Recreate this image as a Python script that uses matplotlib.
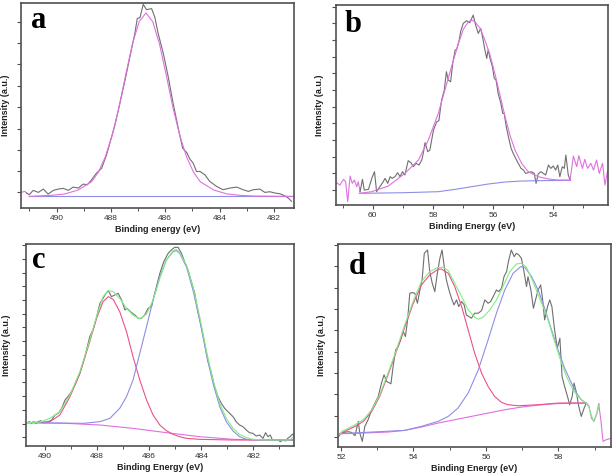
import numpy as np
import matplotlib
matplotlib.use('Agg')
import matplotlib.pyplot as plt
from matplotlib.ticker import MultipleLocator

# ---------------- panel a ----------------
a_edge_ev = [491.31, 491.17, 491.10]
a_edge_int = [22, 25, 20]

a_raw_ev = [491.10, 491.01, 490.86, 490.67, 490.49, 490.31, 490.12, 489.94, 489.75, 489.57,
            489.39, 489.20, 489.02, 488.87, 488.71, 488.53, 488.34, 488.16, 488.04, 487.85,
            487.67, 487.48, 487.30, 487.12, 487.03, 486.93, 486.81, 486.69, 486.50, 486.38,
            486.26, 486.07, 485.89, 485.71, 485.52, 485.36, 485.21, 485.09, 484.97, 484.85,
            484.72, 484.54, 484.36, 484.11, 483.87, 483.62, 483.37, 483.13, 482.94, 482.76,
            482.52, 482.33, 482.15, 481.96, 481.78, 481.60, 481.47, 481.35]
a_raw_int = [20, 15, 28, 22, 32, 17, 28, 32, 34, 28,
             38, 35, 47, 45, 60, 80, 95, 135, 170, 225,
             290, 360, 430, 500, 545, 548, 588, 572, 575, 548,
             500, 440, 370, 290, 215, 155, 142, 122, 110, 85,
             85, 75, 55, 40, 30, 35, 38, 30, 25, 30,
             32, 22, 24, 20, 18, 12, 5, -5]

a_fit_ev = [491.01, 490.21, 489.71, 489.21, 488.71, 488.46, 488.21, 487.96, 487.71, 487.46,
            487.21, 486.96, 486.71, 486.46, 486.21, 485.96, 485.71, 485.46, 485.21, 484.96,
            484.71, 484.21, 483.71, 483.21, 482.71, 481.28]
a_fit_int = [10, 13, 17, 29, 54, 83, 128, 192, 275, 374,
             468, 536, 562, 536, 468, 374, 275, 192, 128, 83,
             54, 29, 17, 13, 11, 10]

a_bg_ev = [491.01, 481.28]
a_bg_int = [10, 10]

a_yticks = [22, 85, 150, 214, 278, 342, 407, 472, 535]

# ---------------- panel b ----------------
b_edge1_ev = [61.20, 61.09, 60.97, 60.90, 60.83, 60.75, 60.68, 60.61, 60.53, 60.48, 60.42]
b_edge1_int = [52, 45, 62, 55, -5, 72, 50, 60, 40, 55, 25]

b_raw_ev = [60.42, 60.34, 60.28, 60.14, 60.03, 59.94, 59.87, 59.76, 59.65, 59.59,
            59.50, 59.42, 59.35, 59.26, 59.17, 59.09, 59.01, 58.93, 58.82, 58.73,
            58.65, 58.56, 58.46, 58.37, 58.32, 58.26, 58.17, 58.10, 57.98, 57.87,
            57.80, 57.71, 57.62, 57.55, 57.49, 57.41, 57.34, 57.26, 57.21, 57.13,
            57.07, 56.99, 56.88, 56.77, 56.71, 56.66, 56.58, 56.49, 56.41, 56.35,
            56.27, 56.21, 56.16, 56.10, 56.02, 55.96, 55.90, 55.83, 55.74, 55.68,
            55.63, 55.56, 55.49, 55.40, 55.33, 55.25, 55.16, 55.07, 54.99, 54.92,
            54.83, 54.72, 54.63, 54.57, 54.50, 54.41, 54.33, 54.25, 54.16, 54.08,
            54.00, 53.92, 53.85, 53.78, 53.70, 53.63, 53.58, 53.50, 53.44]
b_raw_int = [25, 62, 30, 32, 65, 85, 25, 40, 55, 65,
             50, 70, 65, 70, 82, 70, 85, 75, 118, 112,
             100, 110, 105, 120, 140, 172, 145, 150, 210, 235,
             238, 300, 330, 385, 360, 355, 410, 450, 452, 478,
             508, 530, 538, 532, 545, 555, 525, 500, 515, 490,
             450, 425, 452, 425, 400, 365, 360, 320, 290, 260,
             260, 220, 190, 155, 140, 125, 110, 95, 90, 80,
             82, 85, 80, 50, 78, 85, 80, 75, 105, 95,
             102, 90, 105, 70, 100, 95, 135, 75, 60]

b_edge2_ev = [53.44, 53.33, 53.22, 53.15, 53.03, 52.95, 52.86, 52.75, 52.66, 52.56,
              52.47, 52.36, 52.28, 52.20, 52.14]
b_edge2_int = [60, 132, 100, 133, 95, 122, 95, 110, 90, 120,
               80, 110, 45, 85, 90]

b_fit_ev = [60.44, 60.03, 59.48, 58.93, 58.48, 58.15, 57.82, 57.60, 57.38, 57.15,
            56.99, 56.82, 56.71, 56.60, 56.43, 56.27, 56.10, 55.94, 55.77, 55.60,
            55.44, 55.27, 55.05, 54.83, 54.50, 54.16, 53.83, 53.44]
b_fit_int = [20, 25, 42, 80, 120, 180, 260, 330, 400, 470,
             512, 535, 540, 535, 515, 480, 435, 380, 315, 250,
             195, 150, 110, 85, 70, 63, 60, 60]

b_bg_ev = [60.44, 58.93, 57.82, 57.26, 56.71, 56.16, 55.60, 55.05, 54.50, 53.44]
b_bg_int = [20, 22, 25, 32, 40, 48, 54, 57, 58, 59]

b_yticks = [30, 80, 130, 180, 230, 280, 330, 380, 430, 480, 530, 580]

# ---------------- panel c ----------------
c_raw_ev = [490.68, 490.60, 490.51, 490.45, 490.34, 490.26, 490.17, 490.09, 490.00, 489.87,
            489.74, 489.62, 489.49, 489.36, 489.23, 489.04, 488.85, 488.66, 488.47, 488.28,
            488.15, 488.02, 487.89, 487.77, 487.66, 487.57, 487.45, 487.32, 487.19, 487.06,
            486.93, 486.85, 486.72, 486.55, 486.42, 486.30, 486.17, 486.04, 485.91, 485.82,
            485.72, 485.59, 485.44, 485.27, 485.15, 485.02, 484.89, 484.76, 484.64, 484.51,
            484.38, 484.25, 484.13, 484.00, 483.87, 483.74, 483.61, 483.49, 483.36, 483.23,
            483.10, 482.91, 482.78, 482.66, 482.53, 482.40, 482.27, 482.15, 482.02, 481.89,
            481.76, 481.63, 481.53, 481.44, 481.35, 481.28, 481.19, 481.06, 480.96, 480.87,
            480.77, 480.68, 480.59, 480.49, 480.42]
c_raw_int = [72, 75, 70, 75, 70, 75, 78, 72, 72, 75,
             80, 95, 100, 115, 140, 158, 185, 220, 270, 330,
             352, 388, 430, 445, 460, 468, 450, 455, 460, 440,
             410, 415, 405, 395, 385, 385, 395, 415, 420, 450,
             480, 520, 555, 580, 590, 598, 598, 580, 555, 530,
             495, 460, 405, 360, 310, 255, 220, 180, 150, 130,
             115, 100, 90, 75, 65, 60, 50, 42, 40, 32,
             35, 25, 42, 30, 35, 22, 20, 20, 15, 20,
             17, 25, 30, 38, 30]

c_sum_ev = [490.68, 490.19, 489.81, 489.43, 489.04, 488.66, 488.28, 488.02, 487.77, 487.57,
            487.38, 487.13, 486.87, 486.62, 486.36, 486.10, 485.85, 485.59, 485.34, 485.08,
            484.96, 484.83, 484.57, 484.32, 484.06, 483.81, 483.55, 483.29, 483.04, 482.78,
            482.53, 482.27, 482.02, 481.51, 481.00, 480.61, 480.49, 480.42]
c_sum_int = [72, 74, 85, 105, 155, 225, 320, 390, 450, 468,
             465, 445, 415, 395, 383, 398, 440, 505, 560, 588,
             592, 582, 545, 480, 390, 290, 200, 130, 85, 55,
             37, 27, 22, 20, 20, 20, 28, 35]

c_pk1_ev = [490.68, 489.81, 489.43, 489.04, 488.66, 488.28, 488.02, 487.77, 487.57, 487.38,
            487.13, 486.87, 486.62, 486.36, 486.10, 485.85, 485.59, 485.34, 485.08, 484.83,
            484.57, 484.06, 482.78, 480.49]
c_pk1_int = [72, 75, 95, 150, 220, 315, 385, 435, 450, 442,
             405, 345, 270, 200, 140, 95, 65, 48, 37, 30,
             25, 22, 20, 20]

c_pk2_ev = [490.68, 488.53, 487.89, 487.51, 487.13, 486.87, 486.62, 486.36, 486.10, 485.85,
            485.59, 485.34, 485.08, 484.96, 484.83, 484.57, 484.32, 484.06, 483.81, 483.55,
            483.29, 483.04, 482.78, 482.53, 482.27, 481.76, 480.49]
c_pk2_int = [72, 70, 75, 85, 115, 150, 200, 280, 360, 440,
             510, 560, 585, 588, 580, 540, 470, 380, 280, 190,
             120, 75, 47, 30, 22, 20, 20]

c_bg_ev = [490.68, 489.17, 487.89, 486.62, 485.34, 484.06, 482.78, 481.51, 480.49]
c_bg_int = [72, 70, 65, 55, 42, 30, 22, 20, 20]

c_yticks = [28, 69, 110, 152, 193, 234, 275, 316, 358, 399, 440, 481, 522, 564, 605]

# ---------------- panel d ----------------
d_raw_ev = [51.94, 52.00, 52.09, 52.20, 52.29, 52.39, 52.48, 52.52, 52.59, 52.66,
            52.75, 52.85, 52.94, 53.03, 53.12, 53.19, 53.26, 53.38, 53.44, 53.51,
            53.58, 53.65, 53.72, 53.78, 53.84, 53.90, 53.97, 54.04, 54.11, 54.18,
            54.24, 54.30, 54.39, 54.45, 54.52, 54.59, 54.66, 54.73, 54.79, 54.85,
            54.91, 54.98, 55.05, 55.12, 55.19, 55.25, 55.33, 55.40, 55.46, 55.53,
            55.60, 55.69, 55.79, 55.88, 55.97, 56.06, 56.13, 56.20, 56.29, 56.35,
            56.43, 56.50, 56.57, 56.63, 56.70, 56.78, 56.84, 56.91, 56.98, 57.05,
            57.12, 57.16, 57.24, 57.31, 57.38, 57.44, 57.51, 57.56, 57.62, 57.70,
            57.76, 57.82, 57.90, 57.97, 58.04, 58.10, 58.17, 58.25, 58.31, 58.38,
            58.43, 58.50, 58.56, 58.63, 58.71, 58.77]
d_raw_int = [30, 38, 42, 44, 42, 32, 75, 40, 15, 60,
             80, 110, 130, 150, 190, 215, 195, 188, 240, 290,
             300, 320, 345, 330, 380, 460, 462, 460, 430, 470,
             500, 580, 590, 525, 490, 465, 520, 565, 590, 540,
             500, 470, 445, 425, 440, 420, 435, 425, 395, 390,
             385, 400, 400, 408, 440, 430, 435, 450, 470, 465,
             475, 510, 525, 560, 590, 570, 580, 575, 565, 525,
             480, 510, 470, 415, 445, 470, 485, 445, 380, 420,
             440, 420, 345, 295, 325, 210, 180, 150, 125, 150,
             190, 160, 120, 90, 115, 130]

d_edge_ev = [58.77, 58.84, 58.91, 58.98, 59.06, 59.11, 59.17, 59.23, 59.32, 59.44]
d_edge_int = [130, 122, 85, 75, 100, 128, 80, 15, 20, 24]

d_sum_ev = [51.97, 52.02, 52.16, 52.39, 52.62, 52.85, 53.07, 53.30, 53.53, 53.76,
            53.99, 54.22, 54.45, 54.68, 54.82, 54.96, 55.14, 55.33, 55.51, 55.69,
            55.79, 55.92, 56.11, 56.29, 56.47, 56.66, 56.84, 56.98, 57.12, 57.30,
            57.48, 57.67, 57.85, 58.04, 58.22, 58.40, 58.54, 58.68, 58.77, 58.84,
            58.91, 58.98, 59.07, 59.13]
d_sum_int = [35, 45, 52, 65, 80, 110, 155, 220, 290, 365,
             435, 495, 525, 538, 538, 528, 490, 450, 410, 388,
             382, 388, 410, 440, 480, 525, 548, 550, 538, 495,
             445, 395, 330, 265, 210, 170, 150, 135, 130, 118,
             92, 75, 100, 128]

d_pk1_ev = [51.97, 52.16, 52.39, 52.62, 52.85, 53.07, 53.30, 53.53, 53.76, 53.99,
            54.22, 54.45, 54.68, 54.77, 54.96, 55.14, 55.33, 55.51, 55.69, 55.88,
            56.06, 56.24, 56.43, 56.61, 56.89, 57.44, 57.99, 58.36, 58.77]
d_pk1_int = [38, 48, 60, 75, 105, 150, 215, 285, 358, 428,
             485, 515, 532, 533, 520, 480, 420, 350, 280, 220,
             180, 150, 132, 125, 122, 125, 130, 130, 130]

d_pk2_ev = [51.97, 53.76, 54.22, 54.68, 54.96, 55.23, 55.51, 55.79, 56.06, 56.29,
            56.52, 56.75, 56.96, 57.07, 57.26, 57.44, 57.62, 57.81, 57.99, 58.17,
            58.36, 58.50, 58.63, 58.77]
d_pk2_int = [38, 48, 60, 75, 90, 115, 160, 230, 320, 400,
             470, 520, 540, 538, 510, 470, 415, 350, 290, 235,
             190, 160, 140, 130]

d_bg_ev = [51.97, 52.39, 52.85, 53.30, 53.76, 54.22, 54.68, 55.14, 55.60, 56.06,
           56.52, 56.98, 57.44, 57.90, 58.36, 58.77]
d_bg_int = [38, 39, 41, 43, 48, 58, 70, 80, 90, 100,
            110, 118, 124, 128, 130, 130]

d_yticks = [28, 92, 156, 220, 284, 349, 413, 477, 541, 605]

# colours
GRAY = '#6f6f6f'
MAG = '#e070e0'
BLUE = '#8e8ee6'
RED = '#ef4f8c'
GREEN = '#80ee80'

plt.rcParams['font.family'] = ['Liberation Sans', 'DejaVu Sans']

fig = plt.figure(figsize=(6.14, 4.76), dpi=100)


def make_axes(rect, xlim, ylim, yticks, xlabel, letter, letter_xy, ylab_x):
    ax = fig.add_axes(rect)
    ax.set_xlim(xlim)
    ax.set_ylim(ylim)
    ax.xaxis.set_major_locator(MultipleLocator(2))
    ax.xaxis.set_minor_locator(MultipleLocator(1))
    ax.set_yticks(yticks)
    ax.set_yticklabels([])
    for s in ax.spines.values():
        s.set_color('#505050')
        s.set_linewidth(1.2)
    ax.tick_params(axis='both', which='major', direction='out', length=3, width=0.8,
                   color='#505050', labelsize=6, labelcolor='#333333', pad=2)
    ax.tick_params(axis='x', which='minor', direction='out', length=2, width=0.7,
                   color='#505050')
    ax.set_xlabel(xlabel, fontsize=6.5, fontweight='bold', color='#222222')
    ax.xaxis.set_label_coords(0.5, -0.085)
    ax.set_ylabel('Intensity (a.u.)', fontsize=6.5, fontweight='bold', color='#222222')
    ax.yaxis.set_label_coords(ylab_x, 0.5)
    ax.text(letter_xy[0], letter_xy[1], letter, transform=ax.transAxes,
            fontsize=22, fontweight='bold', family='Liberation Serif',
            va='baseline', ha='left', color='black')
    return ax


lw = 0.8

# a
ax = make_axes([0.0342, 0.563, 0.4446, 0.4307], (491.31, 481.26), (-25, 592), a_yticks,
               'Binding energy (eV)', 'a', (0.035, 0.878), -0.040)
ax.plot(a_edge_ev, a_edge_int, color=MAG, lw=lw)
ax.plot(a_raw_ev, a_raw_int, color=GRAY, lw=lw)
ax.plot(a_bg_ev, a_bg_int, color=BLUE, lw=lw)
ax.plot(a_fit_ev, a_fit_int, color=MAG, lw=lw)

# b
ax = make_axes([0.5472, 0.5693, 0.443, 0.420], (61.22, 52.18), (-15, 585), b_yticks,
               'Binding Energy (eV)', 'b', (0.03, 0.865), -0.044)
ax.plot(b_edge1_ev, b_edge1_int, color=MAG, lw=lw)
ax.plot(b_raw_ev, b_raw_int, color=GRAY, lw=lw)
ax.plot(b_edge2_ev, b_edge2_int, color=MAG, lw=lw)
ax.plot(b_bg_ev, b_bg_int, color=BLUE, lw=lw)
ax.plot(b_fit_ev, b_fit_int, color=MAG, lw=lw)

# c
ax = make_axes([0.0423, 0.063, 0.4365, 0.4244], (490.73, 480.44), (2, 608), c_yticks,
               'Binding Energy (eV)', 'c', (0.022, 0.881), -0.056)
ax.plot(c_raw_ev, c_raw_int, color=GRAY, lw=lw)
ax.plot(c_bg_ev, c_bg_int, color=MAG, lw=lw)
ax.plot(c_pk1_ev, c_pk1_int, color=RED, lw=lw)
ax.plot(c_pk2_ev, c_pk2_int, color=BLUE, lw=lw)
ax.plot(c_sum_ev, c_sum_int, color=GREEN, lw=lw)

# d
ax = make_axes([0.5505, 0.0609, 0.4446, 0.4265], (51.92, 59.45), (-2, 608), d_yticks,
               'Binding Energy (eV)', 'd', (0.04, 0.85), -0.044)
ax.plot(d_raw_ev, d_raw_int, color=GRAY, lw=lw)
ax.plot(d_edge_ev, d_edge_int, color=MAG, lw=lw)
ax.plot(d_bg_ev, d_bg_int, color=MAG, lw=lw)
ax.plot(d_pk1_ev, d_pk1_int, color=RED, lw=lw)
ax.plot(d_pk2_ev, d_pk2_int, color=BLUE, lw=lw)
ax.plot(d_sum_ev, d_sum_int, color=GREEN, lw=lw)

fig.savefig('out.png', dpi=100)
